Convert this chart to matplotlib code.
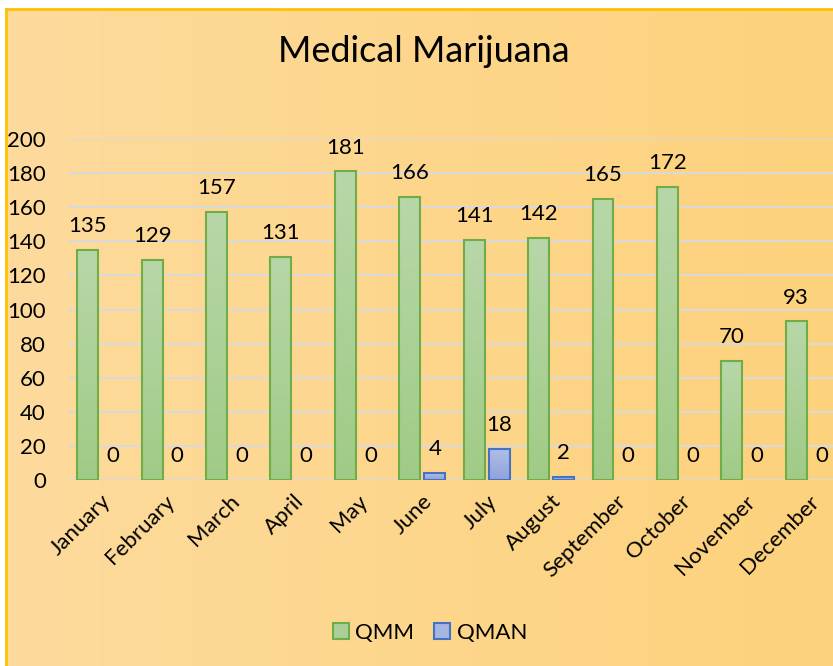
import matplotlib
matplotlib.use("Agg")
import matplotlib.pyplot as plt
import numpy as np
from matplotlib.colors import LinearSegmentedColormap
from matplotlib.patches import Rectangle, Patch

months = ["January", "February", "March", "April", "May", "June", "July",
          "August", "September", "October", "November", "December"]
qmm = [135, 129, 157, 131, 181, 166, 141, 142, 165, 172, 70, 93]
qman = [0, 0, 0, 0, 0, 4, 18, 2, 0, 0, 0, 0]
yticks = [0, 20, 40, 60, 80, 100, 120, 140, 160, 180, 200]

plt.rcParams['font.family'] = ['Lato', 'DejaVu Sans']

W, H = 833, 666
fig = plt.figure(figsize=(W / 100, H / 100), dpi=100)
fig.patch.set_facecolor('white')

# background gradient panel
bg = fig.add_axes([0, 0, 1, 1], zorder=-10)
bg.set_xlim(0, W)
bg.set_ylim(H, 0)
bg.axis('off')
bgcmap = LinearSegmentedColormap.from_list('bg', ['#FEDB9D', '#FDD27C'])
grad = np.linspace(0, 1, 256).reshape(1, -1)
bg.imshow(grad, cmap=bgcmap, extent=[6, W + 5, H, 9], aspect='auto')
bg.plot([6, 6], [9, H], color='#FFC000', lw=2)
bg.plot([6, W], [9, 9], color='#FFC000', lw=2)

ax_left, ax_right = 68 / W, 841 / W
ax_bottom, ax_top = (H - 480) / H, (H - 139) / H
ax = fig.add_axes([ax_left, ax_bottom, ax_right - ax_left, ax_top - ax_bottom])
ax.patch.set_alpha(0)

x = np.arange(len(months))
bw = 0.325
off = 0.195
green = ax.bar(x - off, qmm, bw, facecolor='none', edgecolor='#70AD47', lw=1.5, zorder=3)
blue = ax.bar(x + off, qman, bw, facecolor='none', edgecolor='#4472C4', lw=1.5, zorder=3)

gcmap = LinearSegmentedColormap.from_list('g', ['#A0CB86', '#B8D7A9'])
bcmap = LinearSegmentedColormap.from_list('b', ['#8FA3DB', '#B0BEE6'])
vgrad = np.linspace(0, 1, 128).reshape(-1, 1)
for bars, cm in ((green, gcmap), (blue, bcmap)):
    for b in bars:
        if b.get_height() <= 0:
            b.set_linewidth(0)
            continue
        x0, w, h = b.get_x(), b.get_width(), b.get_height()
        im = ax.imshow(vgrad, cmap=cm, extent=[x0, x0 + w, 0, h], origin='lower',
                       aspect='auto', zorder=2.5)
        im.set_clip_path(Rectangle((x0, 0), w, h, transform=ax.transData))

for bars, vals in ((green, qmm), (blue, qman)):
    for b, v in zip(bars, vals):
        ax.annotate(str(v), (b.get_x() + b.get_width() / 2, b.get_height()),
                    xytext=(0, 10), textcoords='offset points', ha='center',
                    va='bottom', fontsize=16, color='#000000', zorder=4)

ax.set_xlim(-0.5, len(months) - 0.5)
ax.set_ylim(0, 200)
ax.set_yticks(yticks)
ax.set_yticklabels([str(t) for t in yticks], fontsize=16)
ax.yaxis.grid(True, color='#D9D9D9', lw=1.5, zorder=0)
ax.set_axisbelow(True)
ax.set_xticks(x)
ax.set_xticklabels(months, rotation=45, ha='right', rotation_mode='anchor', fontsize=16)
ax.tick_params(axis='y', length=0, pad=16)
ax.tick_params(axis='x', length=0, pad=8)
for s in ax.spines.values():
    s.set_visible(False)

fig.text(424 / W, 1 - 52 / H, 'Medical Marijuana', ha='center', va='center', fontsize=26)

handles = [Patch(facecolor='#AACF99', edgecolor='#70AD47', lw=1.5, label='QMM'),
           Patch(facecolor='#A6B5E2', edgecolor='#4472C4', lw=1.5, label='QMAN')]
fig.legend(handles=handles, loc='center', bbox_to_anchor=(430 / W, 1 - 633 / H),
           ncol=2, frameon=False, fontsize=16, handlelength=0.7, handleheight=0.7,
           handletextpad=0.3, columnspacing=0.9)

fig.savefig('out.png', dpi=100)
